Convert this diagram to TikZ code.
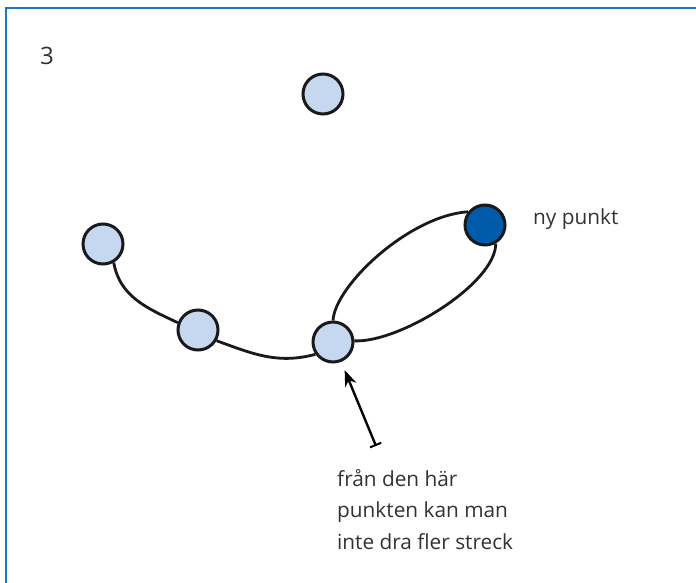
\documentclass[tikz,border=0pt]{standalone}
\usepackage{fontspec}
\setmainfont{Open Sans}
\usetikzlibrary{arrows.meta}
\definecolor{frameblue}{RGB}{30,115,200}
\definecolor{lightdot}{RGB}{197,216,239}
\definecolor{darkdot}{RGB}{0,91,170}
\definecolor{txt}{RGB}{50,50,50}
\begin{document}
\begin{tikzpicture}[x=1pt,y=-1pt,
  dot/.style={circle,draw=black!90,line width=3pt,minimum size=40pt,inner sep=0pt,fill=lightdot},
  newdot/.style={dot,fill=darkdot},
  link/.style={line width=2.8pt,draw=black!90},
  lbl/.style={text=txt,font=\fontsize{20.8}{31.5}\selectfont,inner sep=0pt}]
\useasboundingbox (0,0) rectangle (696,583);
\draw[frameblue,line width=2pt] (6,583) -- (6,8) -- (696,8);
\node[lbl,font=\fontsize{24}{28}\selectfont] (num) at (47,56) {3};
\node[dot] (top) at (323,94) {};
\node[dot] (left) at (103,244) {};
\node[dot] (mid) at (198,330) {};
\node[dot] (low) at (333,342) {};
\node[newdot] (new) at (485,225) {};
\node[lbl,anchor=west] (newlbl) at (533,219) {ny punkt};
\draw[link] (left.-60) to[out=-80,in=155] (mid.160);
\draw[link] (mid.-30) to[out=-20,in=195] (low.215);
\draw[link] (low.90) .. controls +(2,-35) and +(-59,4) .. (new.142);
\draw[link] (low.3) .. controls +(45,2) and +(0,40) .. (new.-60);
\node[lbl,anchor=north west,align=left] (note) at (337,469) {från den här\\punkten kan man\\inte dra fler streck};
\coordinate (tail) at (376,446);
\draw[line width=2.4pt,{Bar[width=12pt,line width=2pt]}-{Stealth[length=16pt,width=12pt]},shorten >=9pt] (tail) -- (low);
\end{tikzpicture}
\end{document}
